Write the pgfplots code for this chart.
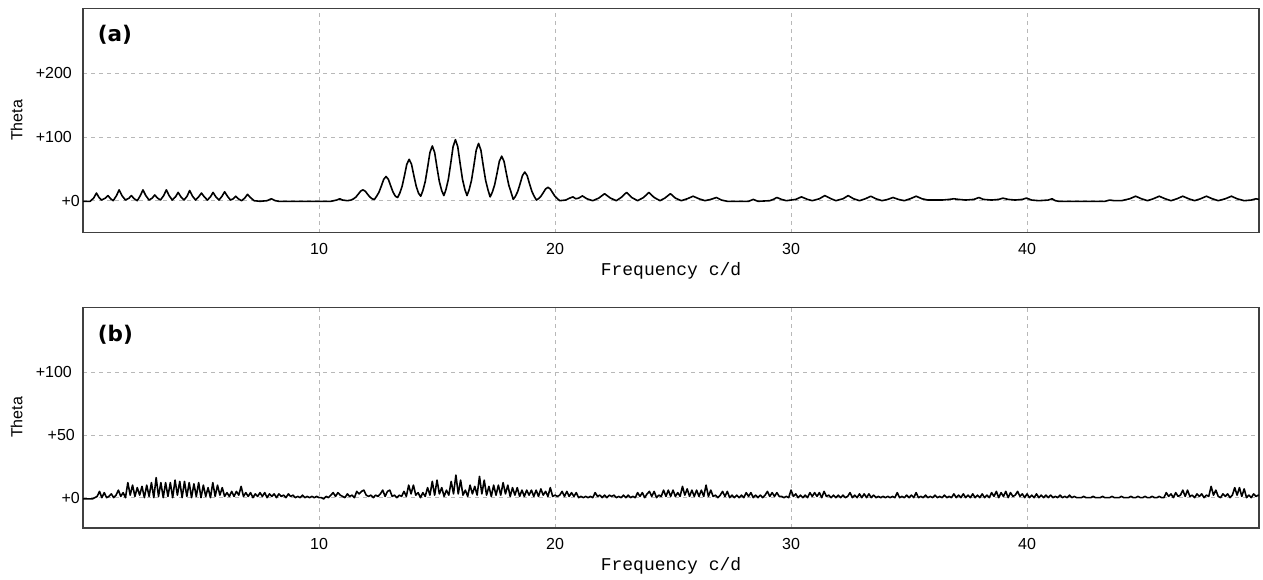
\documentclass[border=0pt]{standalone}
\usepackage{fontspec}
\setmainfont{Liberation Sans}
\setmonofont{Liberation Mono}
\newfontfamily\panelfont{DejaVu Sans}
\usepackage{pgfplots}
\pgfplotsset{compat=1.18}

\pgfplotsset{
  thetaaxis/.style={
    scale only axis, width=1176pt,
    xmin=0, xmax=49.83,
    axis line style={black!75, line width=1.6pt},
    grid=major,
    major grid style={black!28, line width=1pt, dash pattern=on 4pt off 4pt},
    major tick length=0pt,
    xtick={10,20,30,40}, xticklabels={10,20,30,40},
    tick label style={font=\fontsize{16}{18}\selectfont},
    xticklabel style={inner sep=0pt, yshift=-10.5pt},
    yticklabel style={inner sep=0pt, anchor=east, xshift=-3pt},
    xlabel={Frequency c/d}, ylabel={Theta},
    xlabel style={font=\ttfamily\fontsize{18}{20}\selectfont, anchor=center},
    ylabel style={font=\fontsize{16}{18}\selectfont, anchor=center,
      at={(axis description cs:-0.0564,0.5)}},
  },
  thetaline/.style={black, mark=none, line width=1.6pt, line join=round},
}
\tikzset{
  panellabel/.style={anchor=north west, inner sep=0pt,
    font=\panelfont\bfseries\fontsize{21.5}{24}\selectfont},
}

\begin{document}
\begin{tikzpicture}
\useasboundingbox (0,0) rectangle (1263pt,-580pt);

% (a) original data
\begin{axis}[thetaaxis,
    at={(83pt,-8.5pt)}, anchor=north west, height=224pt,
    ymin=-50, ymax=302,
    ytick={0,100,200},
    yticklabels={{+0},{+100\kern8pt},{+200\kern8pt}},
    xlabel style={at={(axis description cs:0.5,-0.1696)}},
  ]
\addplot[thetaline] coordinates {
(0,-1)(0.3,-1)(0.45,4)(0.57,12)(0.68,5)(0.78,1)(0.95,4)(1.06,8)(1.17,3)(1.28,0)
(1.42,8)(1.53,17)(1.65,8)(1.8,1)(1.95,4)(2.05,8)(2.17,3)(2.3,0)(2.43,8)(2.54,17)
(2.66,8)(2.8,1)(2.93,4)(3.04,9)(3.16,4)(3.28,1)(3.42,8)(3.53,17)(3.65,8)(3.78,1)
(3.92,6)(4.03,13)(4.15,6)(4.28,1)(4.41,7)(4.52,16)(4.64,7)(4.77,1)(4.9,6)(5.02,12)
(5.14,6)(5.27,1)(5.4,6)(5.51,13)(5.63,6)(5.76,1)(5.89,7)(6.0,14)(6.12,7)(6.25,1)
(6.37,3)(6.47,7)(6.58,3)(6.72,0)(6.85,4)(6.97,10)(7.09,5)(7.25,0)(7.5,-1)(7.8,0)
(7.98,3)(8.15,0)(8.3,-1)(10.5,-1)(10.75,1)(10.88,3)(11.0,1)(11.2,0)(11.36,1)
(11.46,2.8)(11.56,5.6)(11.66,10.1)(11.76,14.9)(11.86,17)(11.96,14.9)(12.06,10.1)(12.16,5.6)(12.26,2.8)(12.35,2)
(12.44,6.9)(12.54,13.2)(12.64,23)(12.74,33.5)(12.84,38)(12.94,33.5)(13.04,23)(13.14,13.2)(13.24,6.9)(13.33,5)
(13.42,11.6)(13.52,22.4)(13.62,39.2)(13.72,57.2)(13.82,65)(13.92,57.2)(14.02,39.2)(14.12,22.4)(14.22,11.6)(14.31,7)
(14.40,15.7)(14.50,29.9)(14.60,52)(14.70,75.7)(14.80,86)(14.90,75.7)(15.00,52)(15.10,29.9)(15.20,15.7)(15.29,8)
(15.38,17.7)(15.48,33.5)(15.58,58.2)(15.68,84.6)(15.78,96)(15.88,84.6)(15.98,58.2)(16.08,33.5)(16.18,17.7)(16.27,8)
(16.36,17)(16.46,31.8)(16.56,54.7)(16.66,79.3)(16.76,90)(16.86,79.3)(16.96,54.7)(17.06,31.8)(17.16,17)(17.25,6)
(17.34,13)(17.44,24.6)(17.54,42.5)(17.64,61.7)(17.74,70)(17.84,61.7)(17.94,42.5)(18.04,24.6)(18.14,13)(18.23,2)
(18.32,6.7)(18.42,14.5)(18.52,26.5)(18.62,39.4)(18.72,45)(18.82,39.4)(18.92,26.5)(19.02,14.5)(19.12,6.7)(19.21,1)
(19.30,3.2)(19.40,6.8)(19.50,12.4)(19.60,18.4)(19.70,21)(19.80,18.4)(19.90,12.4)(20.00,6.8)(20.10,3.2)(20.2,0)
(20.45,1)(20.62,4)(20.76,6)(20.88,3)(21.0,4)(21.16,7.5)(21.35,3)(21.6,0)(21.85,4)(22.1,11)
(22.35,4)(22.6,0)(22.8,5)(23.03,13)(23.25,5)(23.5,0)(23.75,5)(23.98,13)(24.2,5)(24.45,0)
(24.65,4)(24.89,11)(25.1,4)(25.35,0)(25.6,3)(25.85,7)(26.1,3)(26.35,0)(26.6,2)(26.84,5)
(27.05,1)(27.3,-1)(28.2,-1)(28.4,2)(28.6,-1)(29.1,0)(29.25,2)(29.4,5)(29.6,2)(29.8,0)
(30.2,2)(30.44,6)(30.7,2)(30.9,0)(31.2,3)(31.43,8)(31.7,3)(31.9,0)(32.2,3)(32.42,8)
(32.65,3)(32.9,0)(33.15,3)(33.38,7)(33.6,3)(33.85,0)(34.1,2)(34.32,5)(34.55,2)(34.8,0)
(35.05,3)(35.3,7)(35.55,3)(35.8,1)(36.4,1)(36.7,2)(36.9,3)(37.1,2)(37.4,1)(37.75,2)
(37.96,5)(38.15,2)(38.5,1)(38.8,2)(38.98,4)(39.2,2)(39.5,1)(39.8,2)(39.97,4)(40.2,1)
(40.5,0)(40.9,1)(41.06,3)(41.2,0)(41.35,-1)(43.3,-1)(43.5,1)(43.7,0)(44.0,0)(44.35,3)
(44.6,7)(44.85,3)(45.1,0)(45.35,3)(45.6,7)(45.85,3)(46.1,0)(46.35,3)(46.6,7)(46.85,3)
(47.1,0)(47.35,3)(47.6,7)(47.85,3)(48.1,0)(48.4,3)(48.66,7)(48.9,3)(49.2,0)(49.5,1)
(49.7,3)(49.83,2)
};
\node[panellabel] at (rel axis cs:0.0125,0.927) {(a)};
\end{axis}

% (b) residuals
\begin{axis}[thetaaxis,
    at={(83pt,-307.3pt)}, anchor=north west, height=220.4pt,
    ymin=-24, ymax=152,
    ytick={0,50,100},
    yticklabels={{+0},{+50\kern5pt},{+100\kern8pt}},
    xlabel style={at={(axis description cs:0.5,-0.1738)}},
  ]
\addplot[thetaline] coordinates {
(0.0,-1)(0.1,-1)(0.2,-1)(0.3,-1)(0.4,-1)(0.5,0)(0.6,1)(0.7,5)(0.8,0)(0.9,4)
(1.0,0)(1.1,1)(1.2,3)(1.3,0)(1.4,2)(1.5,6)(1.6,1)(1.7,4)(1.8,0)(1.9,12)
(2.0,2)(2.1,10)(2.2,1)(2.3,8)(2.4,2)(2.5,9)(2.6,0)(2.7,10)(2.8,1)(2.9,12)
(3.0,0)(3.1,16)(3.2,1)(3.3,12)(3.4,0)(3.5,12)(3.6,1)(3.7,12)(3.8,0)(3.9,14)
(4.0,2)(4.1,13)(4.2,0)(4.3,13)(4.4,1)(4.5,12)(4.6,0)(4.7,11)(4.8,1)(4.9,12)
(5.0,0)(5.1,10)(5.2,1)(5.3,8)(5.4,0)(5.5,12)(5.6,1)(5.7,10)(5.8,2)(5.9,8)
(6.0,1)(6.1,4)(6.2,1)(6.3,5)(6.4,1)(6.5,5)(6.6,2)(6.7,9)(6.8,1)(6.9,4)
(7.0,1)(7.1,4)(7.2,0)(7.3,3)(7.4,1)(7.5,4)(7.6,1)(7.7,4)(7.8,0)(7.9,3)
(8.0,1)(8.1,3)(8.2,0)(8.3,3)(8.4,1)(8.5,2)(8.6,0)(8.7,3)(8.8,1)(8.9,2)
(9.0,0)(9.1,1)(9.2,0)(9.3,2)(9.4,0)(9.5,1)(9.6,0)(9.7,1)(9.8,0)(9.9,1)
(10.0,0)(10.1,0)(10.2,-1)(10.3,1)(10.4,0)(10.5,2)(10.6,4)(10.7,1)(10.8,4)(10.9,2)
(11.0,1)(11.1,0)(11.2,3)(11.3,1)(11.4,2)(11.5,0)(11.6,5)(11.7,3)(11.8,5)(11.9,6)
(12.0,2)(12.1,1)(12.2,2)(12.3,0)(12.4,2)(12.5,1)(12.6,3)(12.7,6)(12.8,1)(12.9,5)
(13.0,6)(13.1,1)(13.2,2)(13.3,0)(13.4,2)(13.5,1)(13.6,5)(13.7,1)(13.8,10)(13.9,3)
(14.0,10)(14.1,2)(14.2,4)(14.3,0)(14.4,4)(14.5,1)(14.6,8)(14.7,2)(14.8,13)(14.9,2)
(15.0,14)(15.1,3)(15.2,8)(15.3,1)(15.4,6)(15.5,2)(15.6,13)(15.7,3)(15.8,18)(15.9,3)
(16.0,14)(16.1,2)(16.2,6)(16.3,1)(16.4,10)(16.5,3)(16.6,9)(16.7,2)(16.8,17)(16.9,3)
(17.0,14)(17.1,2)(17.2,9)(17.3,1)(17.4,10)(17.5,2)(17.6,10)(17.7,2)(17.8,12)(17.9,3)
(18.0,10)(18.1,1)(18.2,8)(18.3,2)(18.4,8)(18.5,1)(18.6,6)(18.7,1)(18.8,6)(18.9,2)
(19.0,6)(19.1,1)(19.2,6)(19.3,1)(19.4,7)(19.5,2)(19.6,5)(19.7,1)(19.8,8)(19.9,1)
(20.0,2)(20.1,1)(20.2,2)(20.3,5)(20.4,1)(20.5,5)(20.6,1)(20.7,4)(20.8,1)(20.9,4)
(21.0,0)(21.1,1)(21.2,0)(21.3,1)(21.4,0)(21.5,1)(21.6,0)(21.7,4)(21.8,1)(21.9,2)
(22.0,0)(22.1,2)(22.2,0)(22.3,2)(22.4,1)(22.5,2)(22.6,0)(22.7,1)(22.8,0)(22.9,2)
(23.0,0)(23.1,2)(23.2,0)(23.3,1)(23.4,0)(23.5,4)(23.6,1)(23.7,4)(23.8,0)(23.9,3)
(24.0,5)(24.1,1)(24.2,5)(24.3,0)(24.4,2)(24.5,1)(24.6,6)(24.7,1)(24.8,6)(24.9,1)
(25.0,6)(25.1,1)(25.2,4)(25.3,1)(25.4,9)(25.5,2)(25.6,7)(25.7,1)(25.8,6)(25.9,1)
(26.0,6)(26.1,1)(26.2,6)(26.3,1)(26.4,10)(26.5,1)(26.6,6)(26.7,1)(26.8,2)(26.9,0)
(27.0,2)(27.1,5)(27.2,1)(27.3,5)(27.4,0)(27.5,2)(27.6,0)(27.7,2)(27.8,0)(27.9,2)
(28.0,0)(28.1,4)(28.2,1)(28.3,4)(28.4,0)(28.5,2)(28.6,0)(28.7,2)(28.8,0)(28.9,2)
(29.0,5)(29.1,1)(29.2,4)(29.3,1)(29.4,4)(29.5,1)(29.6,1)(29.7,0)(29.8,1)(29.9,0)
(30.0,6)(30.1,1)(30.2,3)(30.3,0)(30.4,2)(30.5,0)(30.6,2)(30.7,0)(30.8,4)(30.9,1)
(31.0,4)(31.1,1)(31.2,4)(31.3,0)(31.4,5)(31.5,1)(31.6,2)(31.7,0)(31.8,2)(31.9,0)
(32.0,2)(32.1,0)(32.2,2)(32.3,0)(32.4,1)(32.5,4)(32.6,0)(32.7,2)(32.8,0)(32.9,3)
(33.0,0)(33.1,3)(33.2,0)(33.3,3)(33.4,0)(33.5,2)(33.6,0)(33.7,1)(33.8,0)(33.9,1)
(34.0,0)(34.1,1)(34.2,0)(34.3,1)(34.4,0)(34.5,4)(34.6,0)(34.7,1)(34.8,0)(34.9,2)
(35.0,0)(35.1,2)(35.2,0)(35.3,4)(35.4,0)(35.5,1)(35.6,0)(35.7,2)(35.8,0)(35.9,1)
(36.0,0)(36.1,2)(36.2,0)(36.3,1)(36.4,0)(36.5,2)(36.6,0)(36.7,1)(36.8,0)(36.9,3)
(37.0,0)(37.1,2)(37.2,0)(37.3,3)(37.4,0)(37.5,2)(37.6,0)(37.7,3)(37.8,0)(37.9,2)
(38.0,0)(38.1,3)(38.2,0)(38.3,2)(38.4,0)(38.5,4)(38.6,1)(38.7,5)(38.8,0)(38.9,4)
(39.0,1)(39.1,5)(39.2,0)(39.3,4)(39.4,1)(39.5,2)(39.6,5)(39.7,1)(39.8,3)(39.9,0)
(40.0,3)(40.1,0)(40.2,2)(40.3,0)(40.4,3)(40.5,0)(40.6,2)(40.7,0)(40.8,2)(40.9,0)
(41.0,2)(41.1,0)(41.2,1)(41.3,0)(41.4,2)(41.5,0)(41.6,1)(41.7,0)(41.8,2)(41.9,0)
(42.0,1)(42.1,0)(42.2,0)(42.3,0)(42.4,1)(42.5,0)(42.6,0)(42.7,0)(42.8,1)(42.9,0)
(43.0,0)(43.1,0)(43.2,1)(43.3,0)(43.4,0)(43.5,0)(43.6,1)(43.7,0)(43.8,0)(43.9,0)
(44.0,1)(44.1,0)(44.2,0)(44.3,0)(44.4,1)(44.5,0)(44.6,0)(44.7,1)(44.8,0)(44.9,0)
(45.0,1)(45.1,0)(45.2,0)(45.3,1)(45.4,0)(45.5,0)(45.6,1)(45.7,0)(45.8,0)(45.9,4)
(46.0,1)(46.1,3)(46.2,0)(46.3,4)(46.4,1)(46.5,2)(46.6,6)(46.7,1)(46.8,6)(46.9,1)
(47.0,2)(47.1,0)(47.2,3)(47.3,1)(47.4,3)(47.5,0)(47.6,2)(47.7,1)(47.8,9)(47.9,2)
(48.0,6)(48.1,1)(48.2,0)(48.3,3)(48.4,1)(48.5,3)(48.6,0)(48.7,2)(48.8,8)(48.9,2)
(49.0,8)(49.1,1)(49.2,7)(49.3,0)(49.4,2)(49.5,0)(49.6,3)(49.7,1)(49.8,2)(49.9,1)
};
\node[panellabel] at (rel axis cs:0.0125,0.92) {(b)};
\end{axis}
\end{tikzpicture}
\end{document}
